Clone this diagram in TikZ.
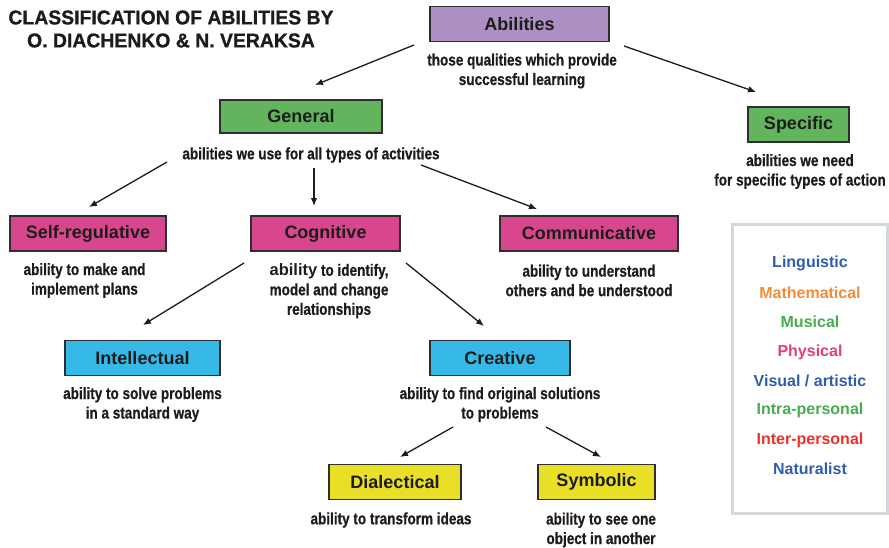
\documentclass[tikz,border=0pt]{standalone}
\usepackage{fontspec}
\setmainfont{Liberation Sans}
\newfontfamily\condfont[FakeStretch=0.82, BoldFeatures={FakeBold=0.6}]{Liberation Sans}
\newfontfamily\titlefont[FakeStretch=0.97, BoldFeatures={FakeBold=0.8}]{Liberation Sans}
\usetikzlibrary{arrows.meta}

\definecolor{boxpurple}{HTML}{AE8FC4}
\definecolor{boxgreen}{HTML}{62B55C}
\definecolor{boxpink}{HTML}{D8478E}
\definecolor{boxblue}{HTML}{35B9E6}
\definecolor{boxyellow}{HTML}{E9DF27}
\definecolor{edgegray}{HTML}{2E2E2E}
\definecolor{ink}{HTML}{1C1C1C}
\definecolor{legblue}{HTML}{2F5DAE}
\definecolor{legorange}{HTML}{F28C38}
\definecolor{leggreen}{HTML}{45AD4E}
\definecolor{legpink}{HTML}{E2406F}
\definecolor{legred}{HTML}{E8322B}
\definecolor{frame}{HTML}{D4D7DB}

\tikzset{
  box/.style={draw=edgegray, line width=1.6pt, minimum height=35pt, inner sep=0pt,
    text=ink, font=\fontsize{18}{20}\selectfont\bfseries},
  desc/.style={align=center, text=ink, inner sep=0pt,
    font=\condfont\fontsize{16.5}{19.5}\selectfont\bfseries},
  legitem/.style={inner sep=0pt, font=\fontsize{16}{18}\selectfont\bfseries},
  link/.style={draw=ink, line width=1.3pt, -{Latex[length=8pt,width=6.5pt]}},
}

\begin{document}
\begin{tikzpicture}[x=1pt,y=-1pt]
\useasboundingbox (0,0) rectangle (889,547);

% title
\node[align=center, text=ink, inner sep=0pt,
  font=\titlefont\fontsize{20}{23}\selectfont\bfseries] (title) at (171,29)
  {CLASSIFICATION OF ABILITIES BY\\O. DIACHENKO \& N. VERAKSA};

% boxes
\node[box, fill=boxpurple, minimum width=179pt] (abil) at (519.5,24) {Abilities};
\node[box, fill=boxgreen,  minimum width=162pt, minimum height=33pt] (gen) at (301,116.5) {General};
\node[box, fill=boxgreen,  minimum width=101pt] (spec) at (798.5,124.5) {Specific};
\node[box, fill=boxpink,   minimum width=156pt] (self) at (88,233.5) {Self-regulative};
\node[box, fill=boxpink,   minimum width=149pt] (cog) at (325.5,233.5) {Cognitive};
\node[box, fill=boxpink,   minimum width=178pt] (comm) at (589,233.5) {Communicative};
\node[box, fill=boxblue,   minimum width=155pt] (intel) at (142.5,358) {Intellectual};
\node[box, fill=boxblue,   minimum width=140pt] (crea) at (500,358) {Creative};
\node[box, fill=boxyellow, minimum width=132pt] (dial) at (395,482) {Dialectical};
\node[box, fill=boxyellow, minimum width=117pt] (symb) at (596.5,482) {Symbolic};

% descriptions
\node[desc] (abilD) at (522,71) {those qualities which provide\\successful learning};
\node[desc] (genD) at (311,155) {abilities we use for all types of activities};
\node[desc] (specD) at (800,171.5) {abilities we need\\for specific types of action};
\node[desc] (selfD) at (84.5,280.5) {ability to make and\\implement plans};
\node[desc] (cogD) at (329,291) {{\rmfamily ability} to identify,\\model and change\\relationships};
\node[desc] (commD) at (589,280.5) {ability to understand\\others and be understood};
\node[desc] (intelD) at (142.5,404.5) {ability to solve problems\\in a standard way};
\node[desc] (creaD) at (500,404.5) {ability to find original solutions\\to problems};
\node[desc] (dialD) at (391,520) {ability to transform ideas};
\node[desc] (symbD) at (601,530) {ability to see one\\object in another};

% legend of intelligences
\node[draw=frame, line width=3pt, minimum width=155pt, minimum height=289pt, inner sep=0pt]
  (legend) at (809.5,368.5) {};
\node[legitem, text=legblue]   (l1) at (810,263) {Linguistic};
\node[legitem, text=legorange] (l2) at (810,293) {Mathematical};
\node[legitem, text=leggreen]  (l3) at (810,322) {Musical};
\node[legitem, text=legpink]   (l4) at (810,352) {Physical};
\node[legitem, text=legblue]   (l5) at (810,381) {Visual / artistic};
\node[legitem, text=leggreen]  (l6) at (810,410) {Intra-personal};
\node[legitem, text=legred]    (l7) at (810,440) {Inter-personal};
\node[legitem, text=legblue]   (l8) at (810,469) {Naturalist};

% connector end points
\coordinate (a1s) at (414,45);  \coordinate (a1e) at (315,85);
\coordinate (a2s) at (624,46);  \coordinate (a2e) at (756,92);
\coordinate (g1s) at (167,162); \coordinate (g1e) at (89,207);
\coordinate (g2s) at (314,168); \coordinate (g2e) at (314,206);
\coordinate (g3s) at (421,165); \coordinate (g3e) at (537,209);
\coordinate (c1s) at (244,263); \coordinate (c1e) at (143,325);
\coordinate (c2s) at (406,263); \coordinate (c2e) at (484,326);
\coordinate (r1s) at (453,427); \coordinate (r1e) at (400,457);
\coordinate (r2s) at (546,427); \coordinate (r2e) at (601,457);

% connectors
\draw[link] (a1s) -- (a1e);
\draw[link] (a2s) -- (a2e);
\draw[link] (g1s) -- (g1e);
\draw[link] (g2s) -- (g2e);
\draw[link] (g3s) -- (g3e);
\draw[link] (c1s) -- (c1e);
\draw[link] (c2s) -- (c2e);
\draw[link] (r1s) -- (r1e);
\draw[link] (r2s) -- (r2e);
\end{tikzpicture}
\end{document}
